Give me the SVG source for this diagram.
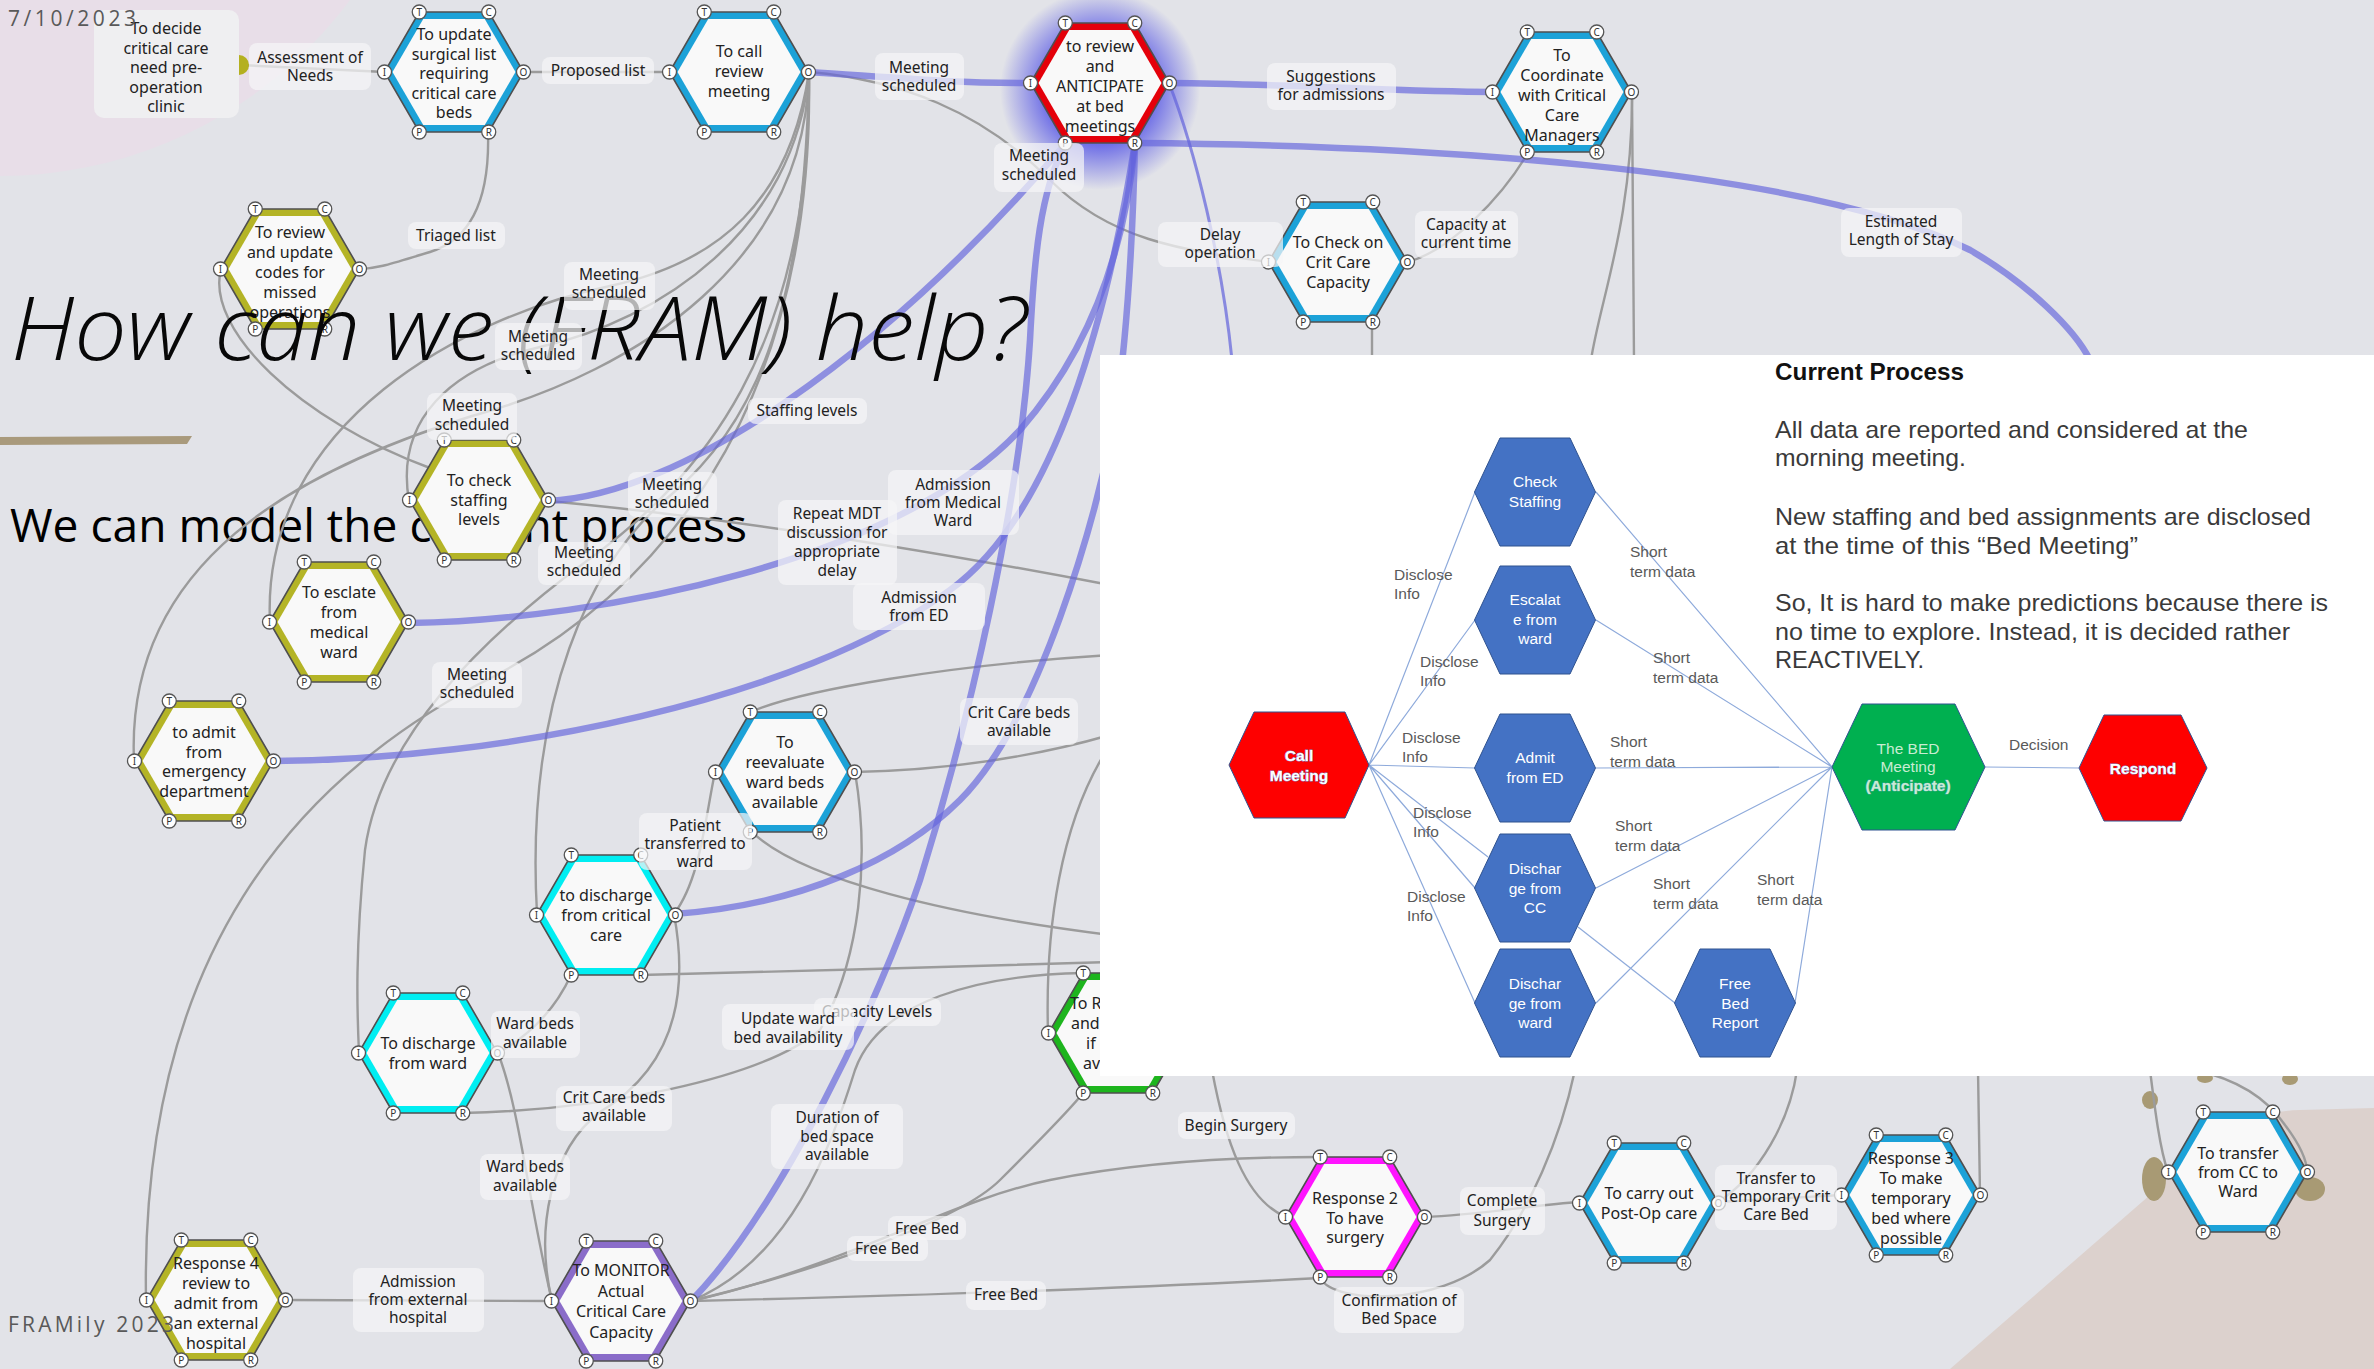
<svg xmlns="http://www.w3.org/2000/svg" width="2374" height="1369" viewBox="0 0 2374 1369">
<defs>
<style>
.g{fill:none;stroke:#9b9b9b;stroke-width:2.4;stroke-linecap:round}
.b{fill:none;stroke:#6262dc;stroke-opacity:.66;stroke-width:6.5;stroke-linecap:round}
.bt{fill:none;stroke:#6262dc;stroke-opacity:.7;stroke-width:3}
.rim{stroke:#4f4f4f;stroke-width:1.6}
.blue{fill:#1ca2d8}.olive{fill:#b4b426}.red{fill:#e4000a}.cyan{fill:#00eef2}.purple{fill:#8a6cc9}.green{fill:#1db51d}.magenta{fill:#ff14ff}
.nt{font-family:"Noto Sans",sans-serif;font-size:16px;fill:#222;text-anchor:middle}
.lbl rect{fill:#f5f5f7;fill-opacity:.72}
.lbl text{font-family:"Noto Sans",sans-serif;font-size:15.5px;fill:#222;text-anchor:middle}
.pl{fill:none;stroke:#8eaadb;stroke-width:1.2}
.ph{fill:#4472c4;stroke:#2f528f;stroke-width:1}
.pt{font-family:"Liberation Sans",Arial,sans-serif;font-size:15.5px;fill:#fff;text-anchor:middle}
.pn{font-family:"Liberation Sans",Arial,sans-serif;font-size:15.5px;fill:#595959}
.para{font-family:"Liberation Sans",Arial,sans-serif;font-size:24px;fill:#3a3a3a}
.slide{font-family:"Open Sans","Liberation Sans",sans-serif}
</style>
<path id="hx" d="M-34.75,-60 L34.75,-60 L69.5,0 L34.75,60 L-34.75,60 L-69.5,0 Z"/>
<path id="phx" d="M-35,-54 L35,-54 L60.5,0 L35,54 L-35,54 L-60.5,0 Z"/>
<g id="ports" font-family="Noto Sans, sans-serif" font-size="10" fill="#333" text-anchor="middle">
<g transform="translate(-34.75,-60)"><circle r="7" fill="#fff" stroke="#555" stroke-width="1.3"/><text y="3.6" fill="#333">T</text></g>
<g transform="translate(34.75,-60)"><circle r="7" fill="#fff" stroke="#555" stroke-width="1.3"/><text y="3.6" fill="#333">C</text></g>
<g transform="translate(-69.5,0)"><circle r="7" fill="#fff" stroke="#555" stroke-width="1.3"/><text y="3.6" fill="#333">I</text></g>
<g transform="translate(69.5,0)"><circle r="7" fill="#fff" stroke="#555" stroke-width="1.3"/><text y="3.6" fill="#333">O</text></g>
<g transform="translate(-34.75,60)"><circle r="7" fill="#fff" stroke="#555" stroke-width="1.3"/><text y="3.6" fill="#333">P</text></g>
<g transform="translate(34.75,60)"><circle r="7" fill="#fff" stroke="#555" stroke-width="1.3"/><text y="3.6" fill="#333">R</text></g>
</g>
<radialGradient id="glow">
<stop offset="0.55" stop-color="#5a5ae6" stop-opacity=".85"/>
<stop offset="1" stop-color="#5a5ae6" stop-opacity="0"/>
</radialGradient>
</defs>

<!-- slide background and decoration -->
<rect width="2374" height="1369" fill="#e2e3e8"/>
<circle cx="0" cy="-260" r="436" fill="#e8dee8"/>
<path d="M1950,1369 L2150,1195 C2185,1150 2230,1112 2300,1110 L2374,1108 L2374,1369 Z" fill="#dcd1cd"/>
<g fill="#a89a74">
<ellipse cx="2154" cy="1179" rx="12" ry="22"/>
<ellipse cx="2310" cy="1189" rx="15" ry="12"/>
<ellipse cx="2150" cy="1100" rx="8" ry="9"/>
<ellipse cx="2205" cy="1078" rx="8" ry="5"/>
<ellipse cx="2290" cy="1079" rx="8" ry="6"/>
</g>
<path d="M0,437 L192,436 L187,444 L0,445 Z" fill="#a99a7c"/>
<text class="slide" x="10" y="542" font-size="46" fill="#000" textLength="737" lengthAdjust="spacingAndGlyphs">We can model the current process</text>

<circle cx="1100" cy="90" r="100" fill="url(#glow)"/>

<!-- connectors -->
<g id="connectors">
<path class="g" d="M239,65 L385,72"/>
<path class="g" d="M524,72 L670,72"/>
<path class="g" d="M488,132 C490,200 470,240 430,252 S380,268 360,269"/>
<path class="g" d="M809,72 C900,80 980,110 1050,180 C1110,240 1180,250 1269,262"/>
<path class="g" d="M1408,262 C1450,250 1500,200 1528,153"/>
<path class="g" d="M1632,92 L1634,360"/>
<path class="g" d="M1632,92 C1633,220 1600,300 1591,360"/>
<path class="g" d="M1372,322 L1372,360"/>
<path class="g" d="M221,269 C205,330 300,420 430,468"/>
<path class="g" d="M809,72 C790,200 720,262 610,286 C470,315 260,420 270,623"/>
<path class="g" d="M809,72 C795,230 660,320 540,347 C450,368 395,420 409,501"/>
<path class="g" d="M809,72 C805,260 640,370 472,416 C300,470 125,560 134,761"/>
<path class="g" d="M809,72 C805,300 760,420 672,494 C590,560 525,700 537,914"/>
<path class="g" d="M809,72 C812,350 700,480 584,563 C480,640 380,740 365,850 C355,950 357,1010 359,1053"/>
<path class="g" d="M809,72 C815,420 650,600 477,685 C300,780 140,950 146,1300"/>
<path class="g" d="M548,501 C700,515 900,545 1110,585"/>
<path class="g" d="M751,712 C800,690 950,665 1110,655"/>
<path class="g" d="M855,772 C950,770 1030,758 1110,735"/>
<path class="g" d="M855,772 C870,860 860,960 820,1030 C760,1080 600,1110 463,1113"/>
<path class="g" d="M674,914 C690,1000 670,1070 600,1112 C550,1150 535,1230 552,1301"/>
<path class="g" d="M674,914 C700,880 705,820 715,772"/>
<path class="g" d="M751,831 C800,880 950,915 1110,935"/>
<path class="g" d="M641,975 C800,972 950,966 1110,962"/>
<path class="g" d="M498,1053 C530,1035 555,1010 571,975"/>
<path class="g" d="M498,1053 C520,1110 528,1200 552,1301"/>
<path class="g" d="M286,1300 L552,1301"/>
<path class="g" d="M691,1301 C900,1296 1100,1290 1320,1278"/>
<path class="g" d="M691,1301 C820,1270 960,1220 1000,1180 C1040,1140 1070,1110 1083,1093"/>
<path class="g" d="M691,1301 C850,1265 950,1200 1050,1180 C1150,1160 1250,1157 1320,1157"/>
<path class="g" d="M691,1301 C790,1260 830,1150 855,1070 C880,1000 980,975 1083,973"/>
<path class="g" d="M1048,1033 C1045,930 1060,820 1110,745"/>
<path class="g" d="M1212,1070 C1225,1140 1245,1200 1286,1217"/>
<path class="g" d="M1424,1217 C1480,1215 1530,1205 1580,1202"/>
<path class="g" d="M1320,1278 C1335,1305 1440,1305 1490,1260 C1530,1210 1560,1140 1575,1070"/>
<path class="g" d="M1718,1202 L1842,1195"/>
<path class="g" d="M1797,1070 C1790,1120 1760,1175 1718,1202"/>
<path class="g" d="M1980,1195 L1978,1070"/>
<path class="g" d="M2150,1070 C2155,1110 2160,1150 2168,1172"/>
<path class="g" d="M2195,1070 C2240,1080 2268,1100 2285,1125 C2300,1145 2307,1160 2307,1172"/>

<path class="b" d="M809,72 C900,78 950,83 1030,83"/>
<path class="b" d="M1169,83 C1300,84 1400,92 1493,92"/>
<path class="b" d="M1135,143 C1400,145 1800,165 1970,250 C2030,285 2075,330 2090,360"/>
<path class="bt" d="M1169,83 C1195,150 1222,260 1232,360"/>
<path class="b" d="M548,501 C680,495 880,360 1066,143"/>
<path class="b" d="M409,623 C600,620 900,560 1020,430 C1090,350 1125,250 1135,143"/>
<path class="b" d="M274,761 C500,760 800,700 950,590 C1060,510 1110,300 1135,143"/>
<path class="b" d="M674,914 C800,905 900,860 960,800 C1040,720 1095,520 1115,420 C1128,330 1133,230 1135,143"/>
<path class="b" d="M691,1301 C780,1210 880,1000 920,880 C970,720 1020,500 1030,340 C1034,260 1040,190 1066,143"/>
</g>

<!-- pre-operation clinic box -->
<g id="n-decide">
<rect x="94" y="10" width="145" height="108" rx="10" fill="#efeff1"/>
<path d="M239,55 A10,10 0 0 1 239,75 Z" fill="#b4b020"/>
<text class="nt" x="166" y="34"><tspan x="166">To decide</tspan><tspan x="166" dy="19.5">critical care</tspan><tspan x="166" dy="19.5">need pre-</tspan><tspan x="166" dy="19.5">operation</tspan><tspan x="166" dy="19.5">clinic</tspan></text>
</g>

<!-- function hexagons -->
<g id="n-update" transform="translate(454,72)">
<use href="#hx" class="rim blue"/><use href="#hx" transform="scale(.885)" fill="#f9f9f9"/>
<text class="nt" y="-32"><tspan x="0">To update</tspan><tspan x="0" dy="19.5">surgical list</tspan><tspan x="0" dy="19.5">requiring</tspan><tspan x="0" dy="19.5">critical care</tspan><tspan x="0" dy="19.5">beds</tspan></text>
<use href="#ports"/>
</g>
<g id="n-call" transform="translate(739,72)">
<use href="#hx" class="rim blue"/><use href="#hx" transform="scale(.885)" fill="#f9f9f9"/>
<text class="nt" y="-15"><tspan x="0">To call</tspan><tspan x="0" dy="20">review</tspan><tspan x="0" dy="20">meeting</tspan></text>
<use href="#ports"/>
</g>
<g id="n-anticipate" transform="translate(1100,83)">
<use href="#hx" class="rim red"/><use href="#hx" transform="scale(.885)" fill="#f9f9f9"/>
<text class="nt" y="-31"><tspan x="0">to review</tspan><tspan x="0" dy="20">and</tspan><tspan x="0" dy="20">ANTICIPATE</tspan><tspan x="0" dy="20">at bed</tspan><tspan x="0" dy="20">meetings</tspan></text>
<use href="#ports"/>
</g>
<g id="n-coordinate" transform="translate(1562,92)">
<use href="#hx" class="rim blue"/><use href="#hx" transform="scale(.885)" fill="#f9f9f9"/>
<text class="nt" y="-31"><tspan x="0">To</tspan><tspan x="0" dy="20">Coordinate</tspan><tspan x="0" dy="20">with Critical</tspan><tspan x="0" dy="20">Care</tspan><tspan x="0" dy="20">Managers</tspan></text>
<use href="#ports"/>
</g>
<g id="n-check-cc" transform="translate(1338,262)">
<use href="#hx" class="rim blue"/><use href="#hx" transform="scale(.885)" fill="#f9f9f9"/>
<text class="nt" y="-14"><tspan x="0">To Check on</tspan><tspan x="0" dy="20">Crit Care</tspan><tspan x="0" dy="20">Capacity</tspan></text>
<use href="#ports"/>
</g>
<g id="n-codes" transform="translate(290,269)">
<use href="#hx" class="rim olive"/><use href="#hx" transform="scale(.885)" fill="#f9f9f9"/>
<text class="nt" y="-31"><tspan x="0">To review</tspan><tspan x="0" dy="20">and update</tspan><tspan x="0" dy="20">codes for</tspan><tspan x="0" dy="20">missed</tspan><tspan x="0" dy="20">operations</tspan></text>
<use href="#ports"/>
</g>
<g id="n-staffing" transform="translate(479,500)">
<use href="#hx" class="rim olive"/><use href="#hx" transform="scale(.885)" fill="#f9f9f9"/>
<text class="nt" y="-14"><tspan x="0">To check</tspan><tspan x="0" dy="19.5">staffing</tspan><tspan x="0" dy="19.5">levels</tspan></text>
<use href="#ports"/>
</g>
<g id="n-escalate" transform="translate(339,622)">
<use href="#hx" class="rim olive"/><use href="#hx" transform="scale(.885)" fill="#f9f9f9"/>
<text class="nt" y="-24"><tspan x="0">To esclate</tspan><tspan x="0" dy="20">from</tspan><tspan x="0" dy="20">medical</tspan><tspan x="0" dy="20">ward</tspan></text>
<use href="#ports"/>
</g>
<g id="n-admit-ed" transform="translate(204,761)">
<use href="#hx" class="rim olive"/><use href="#hx" transform="scale(.885)" fill="#f9f9f9"/>
<text class="nt" y="-23"><tspan x="0">to admit</tspan><tspan x="0" dy="19.5">from</tspan><tspan x="0" dy="19.5">emergency</tspan><tspan x="0" dy="19.5">department</tspan></text>
<use href="#ports"/>
</g>
<g id="n-reevaluate" transform="translate(785,772)">
<use href="#hx" class="rim blue"/><use href="#hx" transform="scale(.885)" fill="#f9f9f9"/>
<text class="nt" y="-24"><tspan x="0">To</tspan><tspan x="0" dy="20">reevaluate</tspan><tspan x="0" dy="20">ward beds</tspan><tspan x="0" dy="20">available</tspan></text>
<use href="#ports"/>
</g>
<g id="n-discharge-cc" transform="translate(606,915)">
<use href="#hx" class="rim cyan"/><use href="#hx" transform="scale(.885)" fill="#f9f9f9"/>
<text class="nt" y="-14"><tspan x="0">to discharge</tspan><tspan x="0" dy="20">from critical</tspan><tspan x="0" dy="20">care</tspan></text>
<use href="#ports"/>
</g>
<g id="n-discharge-ward" transform="translate(428,1053)">
<use href="#hx" class="rim cyan"/><use href="#hx" transform="scale(.885)" fill="#f9f9f9"/>
<text class="nt" y="-4"><tspan x="0">To discharge</tspan><tspan x="0" dy="19.5">from ward</tspan></text>
<use href="#ports"/>
</g>
<g id="n-response4" transform="translate(216,1300)">
<use href="#hx" class="rim olive"/><use href="#hx" transform="scale(.885)" fill="#f9f9f9"/>
<text class="nt" y="-31"><tspan x="0">Response 4</tspan><tspan x="0" dy="20">review to</tspan><tspan x="0" dy="20">admit from</tspan><tspan x="0" dy="20">an external</tspan><tspan x="0" dy="20">hospital</tspan></text>
<use href="#ports"/>
</g>
<g id="n-monitor" transform="translate(621,1301)">
<use href="#hx" class="rim purple"/><use href="#hx" transform="scale(.885)" fill="#f9f9f9"/>
<text class="nt" y="-25"><tspan x="0">To MONITOR</tspan><tspan x="0" dy="20.5">Actual</tspan><tspan x="0" dy="20.5">Critical Care</tspan><tspan x="0" dy="20.5">Capacity</tspan></text>
<use href="#ports"/>
</g>
<g id="n-reserve" transform="translate(1118,1033)">
<use href="#hx" class="rim green"/><use href="#hx" transform="scale(.885)" fill="#f9f9f9"/>
<text class="nt" style="text-anchor:start"><tspan x="-48" y="-24">To R</tspan><tspan x="-47" y="-4">and</tspan><tspan x="-32" y="16">if</tspan><tspan x="-35" y="36">av</tspan></text>
<use href="#ports"/>
</g>
<g id="n-response2" transform="translate(1355,1217)">
<use href="#hx" class="rim magenta"/><use href="#hx" transform="scale(.885)" fill="#f9f9f9"/>
<text class="nt" y="-13"><tspan x="0">Response 2</tspan><tspan x="0" dy="19.5">To have</tspan><tspan x="0" dy="19.5">surgery</tspan></text>
<use href="#ports"/>
</g>
<g id="n-postop" transform="translate(1649,1203)">
<use href="#hx" class="rim blue"/><use href="#hx" transform="scale(.885)" fill="#f9f9f9"/>
<text class="nt" y="-4"><tspan x="0">To carry out</tspan><tspan x="0" dy="20">Post-Op care</tspan></text>
<use href="#ports"/>
</g>
<g id="n-response3" transform="translate(1911,1195)">
<use href="#hx" class="rim blue"/><use href="#hx" transform="scale(.885)" fill="#f9f9f9"/>
<text class="nt" y="-31"><tspan x="0">Response 3</tspan><tspan x="0" dy="20">To make</tspan><tspan x="0" dy="20">temporary</tspan><tspan x="0" dy="20">bed where</tspan><tspan x="0" dy="20">possible</tspan></text>
<use href="#ports"/>
</g>
<g id="n-transfer" transform="translate(2238,1172)">
<use href="#hx" class="rim blue"/><use href="#hx" transform="scale(.885)" fill="#f9f9f9"/>
<text class="nt" y="-13"><tspan x="0">To transfer</tspan><tspan x="0" dy="19">from CC to</tspan><tspan x="0" dy="19">Ward</tspan></text>
<use href="#ports"/>
</g>

<!-- slide headings -->
<text class="slide" x="11" y="360" font-size="88" font-style="italic" font-weight="300" fill="#080808" textLength="1016" lengthAdjust="spacingAndGlyphs">How can we (FRAM) help?</text>
<text class="slide" x="8" y="26" font-size="21" fill="#595959" textLength="128" lengthAdjust="spacing">7/10/2023</text>
<text class="slide" x="8" y="1332" font-size="21" fill="#595959" textLength="166" lengthAdjust="spacing">FRAMily 2023</text>

<!-- connector labels -->
<g id="labels">
<g class="lbl"><rect x="249" y="43" width="122" height="47" rx="8"/><text y="63"><tspan x="310">Assessment of</tspan><tspan x="310" dy="18">Needs</tspan></text></g>
<g class="lbl"><rect x="542" y="57" width="112" height="27" rx="8"/><text x="598" y="76">Proposed list</text></g>
<g class="lbl"><rect x="408" y="222" width="97" height="27" rx="8"/><text x="456" y="241">Triaged list</text></g>
<g class="lbl"><rect x="875" y="53" width="89" height="47" rx="8"/><text y="73"><tspan x="919">Meeting</tspan><tspan x="919" dy="18">scheduled</tspan></text></g>
<g class="lbl"><rect x="1267" y="63" width="129" height="47" rx="8"/><text y="82"><tspan x="1331">Suggestions</tspan><tspan x="1331" dy="18">for admissions</tspan></text></g>
<g class="lbl"><rect x="994" y="143" width="90" height="49" rx="8"/><text y="161"><tspan x="1039">Meeting</tspan><tspan x="1039" dy="19">scheduled</tspan></text></g>
<g class="lbl"><rect x="1158" y="222" width="125" height="45" rx="8"/><text y="240"><tspan x="1220">Delay</tspan><tspan x="1220" dy="18">operation</tspan></text></g>
<g class="lbl"><rect x="1415" y="211" width="103" height="47" rx="8"/><text y="230"><tspan x="1466">Capacity at</tspan><tspan x="1466" dy="18">current time</tspan></text></g>
<g class="lbl"><rect x="1841" y="208" width="121" height="49" rx="8"/><text y="227"><tspan x="1901">Estimated</tspan><tspan x="1901" dy="18">Length of Stay</tspan></text></g>
<g class="lbl"><rect x="564" y="262" width="91" height="48" rx="8"/><text y="280"><tspan x="609">Meeting</tspan><tspan x="609" dy="18">scheduled</tspan></text></g>
<g class="lbl"><rect x="495" y="323" width="87" height="47" rx="8"/><text y="342"><tspan x="538">Meeting</tspan><tspan x="538" dy="18">scheduled</tspan></text></g>
<g class="lbl"><rect x="427" y="393" width="90" height="47" rx="8"/><text y="411"><tspan x="472">Meeting</tspan><tspan x="472" dy="19">scheduled</tspan></text></g>
<g class="lbl"><rect x="628" y="472" width="89" height="45" rx="8"/><text y="490"><tspan x="672">Meeting</tspan><tspan x="672" dy="18">scheduled</tspan></text></g>
<g class="lbl"><rect x="538" y="542" width="92" height="43" rx="8"/><text y="558"><tspan x="584">Meeting</tspan><tspan x="584" dy="18">scheduled</tspan></text></g>
<g class="lbl"><rect x="432" y="662" width="90" height="46" rx="8"/><text y="680"><tspan x="477">Meeting</tspan><tspan x="477" dy="18">scheduled</tspan></text></g>
<g class="lbl"><rect x="748" y="398" width="119" height="26" rx="8"/><text x="807" y="416">Staffing levels</text></g>
<g class="lbl"><rect x="778" y="500" width="119" height="85" rx="8"/><text y="519"><tspan x="837">Repeat MDT</tspan><tspan x="837" dy="19">discussion for</tspan><tspan x="837" dy="19">appropriate</tspan><tspan x="837" dy="19">delay</tspan></text></g>
<g class="lbl"><rect x="888" y="470" width="131" height="65" rx="8"/><text y="490"><tspan x="953">Admission</tspan><tspan x="953" dy="18">from Medical</tspan><tspan x="953" dy="18">Ward</tspan></text></g>
<g class="lbl"><rect x="853" y="583" width="132" height="47" rx="8"/><text y="603"><tspan x="919">Admission</tspan><tspan x="919" dy="18">from ED</tspan></text></g>
<g class="lbl"><rect x="960" y="698" width="118" height="47" rx="8"/><text y="718"><tspan x="1019">Crit Care beds</tspan><tspan x="1019" dy="18">available</tspan></text></g>
<g class="lbl"><rect x="639" y="813" width="113" height="57" rx="8"/><text y="831"><tspan x="695">Patient</tspan><tspan x="695" dy="18">transferred to</tspan><tspan x="695" dy="18">ward</tspan></text></g>
<g class="lbl"><rect x="491" y="1011" width="89" height="47" rx="8"/><text y="1029"><tspan x="535">Ward beds</tspan><tspan x="535" dy="19">available</tspan></text></g>
<g class="lbl"><rect x="556" y="1086" width="116" height="45" rx="8"/><text y="1103"><tspan x="614">Crit Care beds</tspan><tspan x="614" dy="18">available</tspan></text></g>
<g class="lbl"><rect x="480" y="1154" width="90" height="46" rx="8"/><text y="1172"><tspan x="525">Ward beds</tspan><tspan x="525" dy="19">available</tspan></text></g>
<g class="lbl"><rect x="353" y="1268" width="131" height="64" rx="8"/><text y="1287"><tspan x="418">Admission</tspan><tspan x="418" dy="18">from external</tspan><tspan x="418" dy="18">hospital</tspan></text></g>
<g class="lbl"><rect x="814" y="998" width="127" height="28" rx="8"/><text x="877" y="1017">Capacity Levels</text></g>
<g class="lbl"><rect x="722" y="1004" width="132" height="46" rx="8"/><text y="1024"><tspan x="788">Update ward</tspan><tspan x="788" dy="19">bed availability</tspan></text></g>
<g class="lbl"><rect x="771" y="1104" width="132" height="65" rx="8"/><text y="1123"><tspan x="837">Duration of</tspan><tspan x="837" dy="18.5">bed space</tspan><tspan x="837" dy="18.5">available</tspan></text></g>
<g class="lbl"><rect x="888" y="1216" width="78" height="24" rx="8"/><text x="927" y="1234">Free Bed</text></g>
<g class="lbl"><rect x="847" y="1236" width="81" height="25" rx="8"/><text x="887" y="1254">Free Bed</text></g>
<g class="lbl"><rect x="966" y="1281" width="80" height="29" rx="8"/><text x="1006" y="1300">Free Bed</text></g>
<g class="lbl"><rect x="1178" y="1112" width="117" height="27" rx="8"/><text x="1236" y="1131">Begin Surgery</text></g>
<g class="lbl"><rect x="1460" y="1187" width="85" height="48" rx="8"/><text y="1206"><tspan x="1502">Complete</tspan><tspan x="1502" dy="20">Surgery</tspan></text></g>
<g class="lbl"><rect x="1334" y="1287" width="130" height="46" rx="8"/><text y="1306"><tspan x="1399">Confirmation of</tspan><tspan x="1399" dy="18">Bed Space</tspan></text></g>
<g class="lbl"><rect x="1715" y="1165" width="122" height="65" rx="8"/><text y="1184"><tspan x="1776">Transfer to</tspan><tspan x="1776" dy="18">Temporary Crit</tspan><tspan x="1776" dy="18">Care Bed</tspan></text></g>
</g>

<!-- current process panel -->
<g id="panel">
<rect x="1100" y="355" width="1274" height="721" fill="#ffffff"/>
<text x="1775" y="380" font-family="Liberation Sans, Arial, sans-serif" font-size="24" font-weight="bold" fill="#111" textLength="189" lengthAdjust="spacingAndGlyphs">Current Process</text>
<text class="para" x="1775" y="438" textLength="473" lengthAdjust="spacingAndGlyphs">All data are reported and considered at the</text>
<text class="para" x="1775" y="466" textLength="191" lengthAdjust="spacingAndGlyphs">morning meeting.</text>
<text class="para" x="1775" y="525" textLength="536" lengthAdjust="spacingAndGlyphs">New staffing and bed assignments are disclosed</text>
<text class="para" x="1775" y="554" textLength="363" lengthAdjust="spacingAndGlyphs">at the time of this “Bed Meeting”</text>
<text class="para" x="1775" y="611" textLength="553" lengthAdjust="spacingAndGlyphs">So, It is hard to make predictions because there is</text>
<text class="para" x="1775" y="640" textLength="515" lengthAdjust="spacingAndGlyphs">no time to explore. Instead, it is decided rather</text>
<text class="para" x="1775" y="668" textLength="149" lengthAdjust="spacingAndGlyphs">REACTIVELY.</text>

<g id="panel-links">
<path class="pl" d="M1369,765 L1475,492 M1369,765 L1475,620 M1369,765 L1475,768 M1369,765 L1488,857 M1369,765 L1475,888 M1369,765 L1475,1003"/>
<path class="pl" d="M1578,927 L1675,1003"/>
<path class="pl" d="M1596,492 L1832,767 M1596,620 L1832,767 M1596,768 L1832,767 M1596,888 L1832,767 M1596,1003 L1832,767 M1795,1003 L1832,767"/>
<path class="pl" d="M1985,767 L2079,768"/>
</g>

<g class="pn">
<text y="580"><tspan x="1394">Disclose</tspan><tspan x="1394" dy="19">Info</tspan></text>
<text y="667"><tspan x="1420">Disclose</tspan><tspan x="1420" dy="19">Info</tspan></text>
<text y="743"><tspan x="1402">Disclose</tspan><tspan x="1402" dy="19">Info</tspan></text>
<text y="818"><tspan x="1413">Disclose</tspan><tspan x="1413" dy="19">Info</tspan></text>
<text y="902"><tspan x="1407">Disclose</tspan><tspan x="1407" dy="19">Info</tspan></text>
<text y="557"><tspan x="1630">Short</tspan><tspan x="1630" dy="19.5">term data</tspan></text>
<text y="663"><tspan x="1653">Short</tspan><tspan x="1653" dy="19.5">term data</tspan></text>
<text y="747"><tspan x="1610">Short</tspan><tspan x="1610" dy="19.5">term data</tspan></text>
<text y="831"><tspan x="1615">Short</tspan><tspan x="1615" dy="19.5">term data</tspan></text>
<text y="889"><tspan x="1653">Short</tspan><tspan x="1653" dy="19.5">term data</tspan></text>
<text y="885"><tspan x="1757">Short</tspan><tspan x="1757" dy="19.5">term data</tspan></text>
<text x="2009" y="750">Decision</text>
</g>

<g id="p-call" transform="translate(1299,765)">
<path d="M-45,-53 L46,-53 L70,0 L46,53 L-45,53 L-70,0 Z" fill="#fe0000" stroke="#2f528f" stroke-width="1"/>
<text class="pt" font-weight="bold" font-size="16" stroke="#7b95d4" stroke-width=".9" paint-order="stroke" y="-4"><tspan x="0">Call</tspan><tspan x="0" dy="20">Meeting</tspan></text>
</g>
<g id="p-staffing" transform="translate(1535,492)"><use href="#phx" class="ph"/><text class="pt" y="-5"><tspan x="0">Check</tspan><tspan x="0" dy="20">Staffing</tspan></text></g>
<g id="p-escalate" transform="translate(1535,620)"><use href="#phx" class="ph"/><text class="pt" y="-15"><tspan x="0">Escalat</tspan><tspan x="0" dy="19.5">e from</tspan><tspan x="0" dy="19.5">ward</tspan></text></g>
<g id="p-admit" transform="translate(1535,768)"><use href="#phx" class="ph"/><text class="pt" y="-5"><tspan x="0">Admit</tspan><tspan x="0" dy="20">from ED</tspan></text></g>
<g id="p-discharge-cc" transform="translate(1535,888)"><use href="#phx" class="ph"/><text class="pt" y="-14"><tspan x="0">Dischar</tspan><tspan x="0" dy="19.5">ge from</tspan><tspan x="0" dy="19.5">CC</tspan></text></g>
<g id="p-discharge-ward" transform="translate(1535,1003)"><use href="#phx" class="ph"/><text class="pt" y="-14"><tspan x="0">Dischar</tspan><tspan x="0" dy="19.5">ge from</tspan><tspan x="0" dy="19.5">ward</tspan></text></g>
<g id="p-freebed" transform="translate(1735,1003)"><use href="#phx" class="ph"/><text class="pt" y="-14"><tspan x="0">Free</tspan><tspan x="0" dy="19.5">Bed</tspan><tspan x="0" dy="19.5">Report</tspan></text></g>
<g id="p-bed" transform="translate(1908,767)">
<path d="M-46,-63 L47,-63 L77,0 L47,63 L-46,63 L-76,0 Z" fill="#00b050" stroke="#2f528f" stroke-width="1"/>
<text class="pt" font-size="14.5" style="fill:#c8ecd2" y="-13"><tspan x="0">The BED</tspan><tspan x="0" dy="18">Meeting</tspan><tspan x="0" dy="19" font-weight="bold" stroke="#7fa0cf" stroke-width=".7" paint-order="stroke">(Anticipate)</tspan></text>
</g>
<g id="p-respond" transform="translate(2143,768)">
<path d="M-39,-53 L38,-53 L64,0 L38,53 L-39,53 L-64,0 Z" fill="#fe0000" stroke="#2f528f" stroke-width="1"/>
<text class="pt" x="0" y="6" font-weight="bold" font-size="16" stroke="#7b95d4" stroke-width=".9" paint-order="stroke">Respond</text>
</g>
</g>
</svg>
